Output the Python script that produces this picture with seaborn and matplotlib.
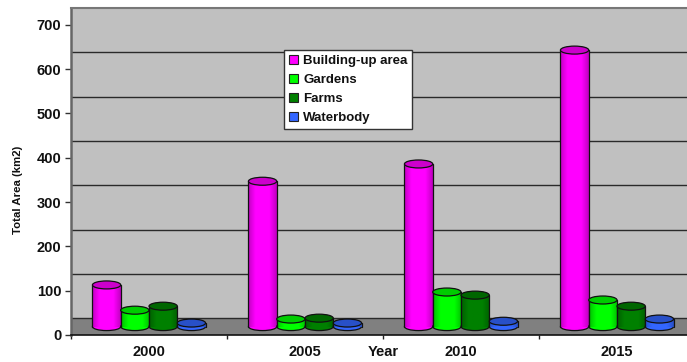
import numpy as np
import pandas as pd
import matplotlib
matplotlib.use("Agg")
import matplotlib.pyplot as plt
import seaborn as sns
from matplotlib.colors import LinearSegmentedColormap
from matplotlib.patches import Ellipse, Patch, Rectangle

years = ["2000", "2005", "2010", "2015"]
series = ["Building-up area", "Gardens", "Farms", "Waterbody"]
building = [94, 328, 367, 624]
gardens = [37, 17, 78, 60]
farms = [46, 19, 71, 46]
waterbody = [8, 8, 12, 17]
y_ticks = [0, 100, 200, 300, 400, 500, 600, 700]
wall_lines = [38, 138, 238, 338, 438, 538, 638]

colors = ["#FF00FF", "#00FF00", "#008000", "#3366FF"]
tops = ["#CC00CC", "#00CC00", "#006600", "#2850C8"]
darks = ["#C000C0", "#00C000", "#006000", "#2850C8"]
BASE = 19
CAP = 18

df = pd.DataFrame({
    "Year": np.repeat(years, 4),
    "Type": series * 4,
    "Area": [v for row in zip(building, gardens, farms, waterbody) for v in row],
})

sns.set_theme(style="white")
plt.rcParams["font.family"] = ["Liberation Sans", "DejaVu Sans"]
plt.rcParams["font.weight"] = "bold"
plt.rcParams["text.color"] = "#111111"

fig = plt.figure(figsize=(6.87, 3.62), dpi=100)
W, H = 687, 362
ax = fig.add_axes([71 / W, 1 - 335 / H, (687 - 71) / W, (335 - 8) / H])
ax.set_facecolor("#C0C0C0")

sns.barplot(data=df, x="Year", y="Area", hue="Type", order=years, hue_order=series,
            palette=colors, width=0.725, gap=0, dodge=True, legend=False,
            errorbar=None, ax=ax, bottom=BASE, linewidth=0, saturation=1)

xlim = (-0.5, (687 - 71) / 156 - 0.5)
ylim = (0, 738)

# floor of the 3-D wall
ax.add_patch(Rectangle((xlim[0], 0), xlim[1] - xlim[0], wall_lines[0],
                       facecolor="#808080", edgecolor="none", zorder=0.5))

# cylinders built on the bars that seaborn laid out
z = 3.0
for c, container in enumerate(ax.containers):
    cmap = LinearSegmentedColormap.from_list("c", [darks[c], colors[c], colors[c], colors[c], darks[c]])
    grad = np.linspace(0, 1, 64).reshape(1, -1)
    for bar in container:
        x0, w = bar.get_x(), bar.get_width()
        y0, h = bar.get_y(), bar.get_height()
        bar.set_zorder(z)
        ax.add_patch(Ellipse((x0 + w / 2, y0), w, CAP, facecolor=colors[c],
                             edgecolor="#111111", lw=0.9, zorder=z))
        im = ax.imshow(grad, extent=(x0, x0 + w, y0, y0 + h), aspect="auto",
                       cmap=cmap, zorder=z + 0.1, interpolation="bilinear")
        ax.plot([x0, x0], [y0, y0 + h], color="#111111", lw=0.9, zorder=z + 0.2)
        ax.plot([x0 + w, x0 + w], [y0, y0 + h], color="#111111", lw=0.9, zorder=z + 0.2)
        ax.add_patch(Ellipse((x0 + w / 2, y0 + h), w, CAP, facecolor=tops[c],
                             edgecolor="#111111", lw=0.9, zorder=z + 0.3))
        z += 1

ax.set_xlim(*xlim)
ax.set_ylim(*ylim)

# axes
ax.set_yticks(y_ticks)
ax.set_yticks(wall_lines, minor=True)
ax.grid(False)
ax.yaxis.grid(True, which="minor", color="#2A2A2A", lw=1.0, zorder=1)
ax.set_axisbelow(True)
ax.tick_params(axis="y", which="major", length=4, width=1, color="#333333", left=True,
               labelsize=10.5, pad=3, labelcolor="#111111")
ax.tick_params(axis="y", which="minor", length=0)
ax.set_xticks(range(len(years)), years)
ax.set_xticks(np.arange(len(years)) - 0.5, minor=True)
ax.tick_params(axis="x", which="major", length=0, labelsize=10.5, pad=7.5, labelcolor="#111111")
ax.tick_params(axis="x", which="minor", length=3, width=1, color="#222222", bottom=True)

ax.set_ylabel("Total Area (km2)", fontsize=8.2, fontweight="bold", color="#111111")
ax.yaxis.set_label_coords(-48 / 616, (335 - 190) / 327)
ax.set_xlabel("Year", fontsize=10.5, fontweight="bold", color="#111111")
ax.xaxis.set_label_coords((383 - 71) / 616, -(352 - 335) / 327)
ax.xaxis.label.set_verticalalignment("center")

ax.spines["left"].set(color="#666666", lw=1.8)
ax.spines["top"].set(color="#777777", lw=1.5)
ax.spines["bottom"].set(color="#111111", lw=1.2)
ax.spines["right"].set_visible(False)

handles = [Patch(facecolor=col, edgecolor="#222222", lw=0.8) for col in colors]
leg = ax.legend(handles, series, loc="upper left",
                bbox_to_anchor=((284 - 71) / 616, (335 - 50) / 327), borderaxespad=0,
                frameon=True, fancybox=False, framealpha=1, facecolor="white",
                edgecolor="#333333", fontsize=9.5, handlelength=0.7, handleheight=0.7,
                handletextpad=0.4, labelspacing=0.52, borderpad=0.35)
leg.get_frame().set_linewidth(1)
leg.set_zorder(500)
for t in leg.get_texts():
    t.set_fontweight("bold")

fig.savefig("out.png", dpi=100)
